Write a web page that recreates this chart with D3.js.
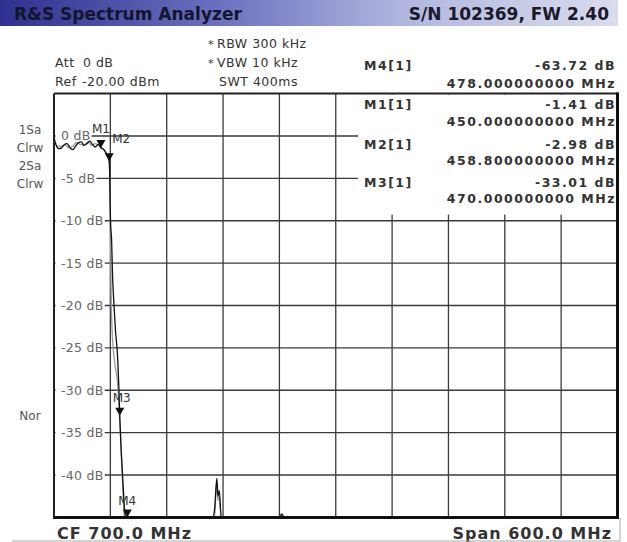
<!DOCTYPE html>
<html>
<head>
<meta charset="utf-8">
<script src="https://cdn.jsdelivr.net/npm/d3@7"></script>
<style>
  body { margin: 0; background: #fff; }
  svg text { font-family: "DejaVu Sans", Verdana, sans-serif; }
</style>
</head>
<body>
<svg id="SA" width="627" height="542"></svg>
<script>
// ---- data ----
var gridFreqs = [460, 520, 580, 640, 700, 760, 820, 880, 940];
var levelTicks = [0, -5, -10, -15, -20, -25, -30, -35, -40];
var levelLabels = ["0 dB", "-5 dB", "-10 dB", "-15 dB", "-20 dB", "-25 dB", "-30 dB", "-35 dB", "-40 dB"];

// trace 1 (black)
var trace1Freq = [400, 402, 405, 408, 411, 414, 417, 420, 423, 426, 429, 432, 435, 438, 441, 444, 447, 450, 453, 456, 458.8,
                  459.3, 459.8, 460.2, 461.4, 462.2, 463.9, 465.5, 467.4, 469, 470, 471.5, 473, 474.5, 476, 478,
                  500, 540, 566, 569, 571, 573.4, 574.6, 576, 578, 580, 584, 620, 640, 642.5, 645, 660, 760, 880, 1000];
var trace1Level = [-0.2, -1.0, -1.5, -1.4, -1.0, -0.9, -1.4, -1.6, -1.2, -0.8, -0.7, -1.1, -0.9, -0.6, -1.0, -1.3, -1.0, -1.41, -1.6, -2.2, -2.98,
                   -4.5, -8, -10, -12.5, -16, -20, -23, -25.5, -29.5, -33.01, -37, -40, -43, -46, -63.72,
                   -62, -61, -60, -48, -44, -40.4, -42.5, -41.8, -45, -50, -61, -62, -58, -44.6, -58, -62, -63, -62, -63];

// trace 2 (grey)
var trace2Freq = [400, 404, 408, 412, 416, 420, 424, 428, 432, 436, 440, 444, 448, 452, 456, 458.5,
                  459.2, 459.8, 460.4, 461, 463, 465, 467.5, 469.5, 471, 473, 475, 477,
                  520, 566, 569, 571, 573, 574.5, 576, 578, 581, 620, 642, 660, 800, 1000];
var trace2Level = [-0.4, -1.2, -1.2, -1.1, -1.4, -1.2, -0.8, -1.0, -1.1, -0.7, -1.1, -0.9, -1.1, -1.5, -2.0, -2.7,
                   -4, -9, -14, -20, -25, -27, -29, -32.5, -36, -41, -45.5, -60,
                   -62, -60, -49, -45, -41, -43, -42.5, -46, -52, -62, -46, -62, -63, -63];

var markerNames = ["M1", "M2", "M3", "M4"];
var markerFreq = [450, 458.8, 470, 478];
var markerLevel = [-1.41, -2.98, -33.01, -63.72];
var markerLevelText = ["-1.41 dB", "-2.98 dB", "-33.01 dB", "-63.72 dB"];
var markerFreqText = ["450.000000000 MHz", "458.800000000 MHz", "470.000000000 MHz", "478.000000000 MHz"];

var traceLabels = ["1Sa", "Clrw", "2Sa", "Clrw"];

var svg = d3.select("svg#SA");

// title bar
var grad = svg.append("defs").append("linearGradient").attr("id", "tbar");
grad.append("stop").attr("offset", "0%").attr("stop-color", "#2f308e");
grad.append("stop").attr("offset", "35%").attr("stop-color", "#6a70bd");
grad.append("stop").attr("offset", "65%").attr("stop-color", "#b0b6df");
grad.append("stop").attr("offset", "100%").attr("stop-color", "#d9dcec");
svg.append("rect").attr("x", 0).attr("y", 0).attr("width", 618).attr("height", 26).style("fill", "url(#tbar)");
svg.append("text").attr("x", 14).attr("y", 20).text("R&S Spectrum Analyzer")
  .style("font-size", "17px").style("font-weight", "bold").style("fill", "#15152e");
svg.append("text").attr("x", 609).attr("y", 20).attr("text-anchor", "end").text("S/N 102369, FW 2.40")
  .style("font-size", "17px").style("font-weight", "bold").style("fill", "#1a1a2a");

// header settings
function hdr(x, y, t, anchor) {
  return svg.append("text").attr("x", x).attr("y", y).text(t)
    .attr("text-anchor", anchor || "start")
    .style("font-size", "12.5px").style("fill", "#333").style("letter-spacing", "0.5px");
}
hdr(208, 48, "*").style("font-size", "11px");
hdr(217, 48, "RBW 300 kHz");
hdr(208, 67, "*").style("font-size", "11px");
hdr(217, 67, "VBW 10 kHz");
hdr(219, 86, "SWT 400ms");
hdr(55, 67, "Att");
hdr(83, 67, "0 dB");
hdr(55, 86, "Ref");
hdr(82, 86, "-20.00 dBm");

// scales
var x = d3.scaleLinear().domain([400, 1000]).range([54, 617.5]);
var y = d3.scaleLinear().domain([5, -45]).range([93.6, 517.4]).clamp(true);

var plot = svg.append("g");

// grid
plot.selectAll("line.vg").data(gridFreqs).enter().append("line")
  .attr("class", "vg")
  .attr("x1", d => x(d)).attr("x2", d => x(d))
  .attr("y1", y(5)).attr("y2", y(-45))
  .style("stroke", "#3a3a3a").style("stroke-width", 1.3);
plot.selectAll("line.hg").data(levelTicks).enter().append("line")
  .attr("class", "hg")
  .attr("x1", x(400)).attr("x2", x(1000))
  .attr("y1", d => y(d)).attr("y2", d => y(d))
  .style("stroke", "#3a3a3a").style("stroke-width", 1.3);

// level labels with white back so the grid starts after them
var lab = plot.selectAll("g.lvl").data(levelTicks).enter().append("g").attr("class", "lvl");
lab.append("rect")
  .attr("x", x(400) + 1.5).attr("y", d => y(d) - 8)
  .attr("height", 16)
  .style("fill", "#fff");
lab.append("text")
  .attr("x", 61).attr("y", d => y(d) + 4.5)
  .text((d, i) => levelLabels[i])
  .style("font-size", "12.5px").style("fill", "#666").style("letter-spacing", "0.3px");
lab.each(function () {
  var t = d3.select(this).select("text").node();
  var w = t.getComputedTextLength();
  d3.select(this).select("rect").attr("width", 61 + w + 1 - (x(400) + 1.5));
});

// marker table box (covers the grid)
svg.append("rect").attr("x", 358).attr("y", y(5) + 1).attr("width", x(1000) - 359).attr("height", 120)
  .style("fill", "#fff");

// frame
svg.append("line").attr("x1", x(400)).attr("x2", x(1000) + 1).attr("y1", y(5)).attr("y2", y(5))
  .style("stroke", "#222").style("stroke-width", 2);
svg.append("line").attr("x1", x(400)).attr("x2", x(400)).attr("y1", y(5)).attr("y2", y(-45))
  .style("stroke", "#222").style("stroke-width", 2);
svg.append("line").attr("x1", x(1000)).attr("x2", x(1000)).attr("y1", y(5) - 1).attr("y2", y(-45) + 1.5)
  .style("stroke", "#111").style("stroke-width", 3);

// traces
svg.append("clipPath").attr("id", "pc").append("rect")
  .attr("x", x(400)).attr("y", y(5)).attr("width", x(1000) - x(400)).attr("height", y(-45) - y(5) + 1);
var line = d3.line().curve(d3.curveMonotoneX).x(d => x(d[0])).y(d => y(d[1]));
var tg = svg.append("g").attr("clip-path", "url(#pc)");
tg.append("path").datum(trace2Freq.map((f, i) => [f, trace2Level[i]]))
  .attr("d", line).style("fill", "none").style("stroke", "#9a9a9a").style("stroke-width", 1.3);
tg.append("path").datum(trace1Freq.map((f, i) => [f, trace1Level[i]]))
  .attr("d", line).style("fill", "none").style("stroke", "#111").style("stroke-width", 1.3);

// bottom border
svg.append("line").attr("x1", x(400) - 1).attr("x2", x(1000) + 1.5).attr("y1", y(-45)).attr("y2", y(-45))
  .style("stroke", "#111").style("stroke-width", 3);

// markers
var labelShift = [[-9, -15], [3, -18], [-7, -14], [-9, -12]];
var mk = svg.selectAll("g.mk").data(markerNames).enter().append("g").attr("class", "mk");
mk.append("path")
  .attr("d", (d, i) => {
    var cx = x(markerFreq[i]), cy = y(markerLevel[i]);
    return "M" + (cx - 4.5) + "," + (cy - 8) + "L" + (cx + 4.5) + "," + (cy - 8) + "L" + cx + "," + cy + "Z";
  })
  .style("fill", "#111");
mk.append("text")
  .attr("x", (d, i) => x(markerFreq[i]) + labelShift[i][0])
  .attr("y", (d, i) => y(markerLevel[i]) + labelShift[i][1])
  .text(d => d)
  .style("font-size", "12px").style("fill", "#333");

// marker readout
var rowY = [[70, 88], [109, 126], [149, 165], [187, 203]];
var order = [3, 0, 1, 2];
order.forEach(function (m, r) {
  var ry = rowY[r];
  var st = function (s) {
    return s.style("font-size", "12.5px").style("font-weight", "bold").style("fill", "#333").style("letter-spacing", "1.5px");
  };
  st(svg.append("text").attr("x", 364).attr("y", ry[0]).text(markerNames[m] + "[1]"));
  st(svg.append("text").attr("x", 616).attr("y", ry[0]).attr("text-anchor", "end").text(markerLevelText[m]));
  st(svg.append("text").attr("x", 616).attr("y", ry[1]).attr("text-anchor", "end").text(markerFreqText[m]));
});

// left side labels
svg.selectAll("text.tl").data(traceLabels).enter().append("text")
  .attr("class", "tl")
  .attr("x", 30).attr("y", (d, i) => 134 + i * 18)
  .attr("text-anchor", "middle")
  .text(d => d)
  .style("font-size", "12px").style("fill", "#555");
svg.append("text").attr("x", 30).attr("y", 420).attr("text-anchor", "middle").text("Nor")
  .style("font-size", "12px").style("fill", "#555");

// footer
svg.append("text").attr("x", 57).attr("y", 539).text("CF 700.0 MHz")
  .style("font-size", "16px").style("font-weight", "bold").style("fill", "#333").style("letter-spacing", "1px");
svg.append("text").attr("x", 612).attr("y", 539).attr("text-anchor", "end").text("Span 600.0 MHz")
  .style("font-size", "16px").style("font-weight", "bold").style("fill", "#333").style("letter-spacing", "1px");
svg.append("line").attr("x1", 12).attr("x2", 620).attr("y1", 541).attr("y2", 541)
  .style("stroke", "#aaa").style("stroke-width", 1);
svg.append("line").attr("x1", 620).attr("x2", 620).attr("y1", 518).attr("y2", 541)
  .style("stroke", "#aaa").style("stroke-width", 1);
</script>
</body>
</html>
